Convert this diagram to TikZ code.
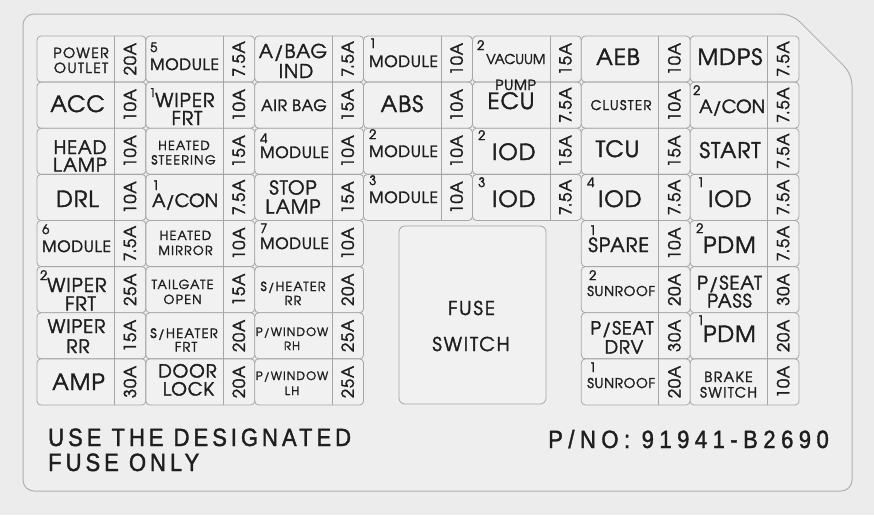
\documentclass[tikz,border=0pt]{standalone}
\usepackage{fontspec}
\setmainfont{texgyreadventor-regular.otf}[FakeBold=2]
\newfontfamily\trk[LetterSpace=5,FakeBold=2]{texgyreadventor-regular.otf}
\newfontfamily\trkw[LetterSpace=10,FakeBold=2]{texgyreadventor-regular.otf}
\newfontfamily\condf[FakeStretch=0.88,LetterSpace=16,FakeBold=1.5]{Liberation Sans}
\newfontfamily\condg[FakeStretch=0.88,LetterSpace=22,FakeBold=1.5]{Liberation Sans}
\definecolor{bgc}{HTML}{ECECEC}
\definecolor{panelfill}{HTML}{EEEEEE}
\definecolor{panelline}{HTML}{B0B0B0}
\definecolor{cellfill}{HTML}{F1F1F1}
\definecolor{cellline}{HTML}{A6A6A6}
\definecolor{ink}{HTML}{1E1E1E}
\newcommand\fs[1]{\fontsize{#1}{#1}\selectfont}
\newcount\nodecnt
\newcommand\tc[4]{\global\advance\nodecnt by 1\relax
  \node[txt,anchor=base,font=\fs{#3}] (t\the\nodecnt) at (#1,#2) {#4};}
\newcommand\tw[4]{\global\advance\nodecnt by 1\relax
  \node[txt,anchor=base west,font=\fs{#3}] (t\the\nodecnt) at (#1,#2) {#4};}
% #1 col, #2 row, #3 amp text
\newcommand\fusecell[3]{%
  \node[cellbox] (cell-#2-#1) at ({37+108.86*#1+54.43},{36+46.125*#2+23.06}) {};
  \draw[divider] ({37+108.86*#1+77.5},{36+46.125*#2}) -- ++(0,46.125);
  \node[amp] (amp-#2-#1) at ({37+108.86*#1+93},{36+46.125*#2+23.06}) {\trk #3};}
\tikzset{
  txt/.style={inner sep=0pt,text=ink},
  cellbox/.style={draw=cellline,fill=cellfill,line width=0.8pt,rounded corners=4pt,
    minimum width=108.86pt,minimum height=46.125pt,inner sep=0pt},
  divider/.style={draw=cellline,line width=0.8pt},
  amp/.style={txt,rotate=90,font=\fs{16.5}},
  panel/.style={draw=panelline,fill=panelfill,line width=1pt,rounded corners=11pt},
}
\begin{document}
\begin{tikzpicture}[x={(1pt,0pt)},y={(0pt,-1pt)}]
\fill[bgc] (0,0) rectangle (874,515);
\useasboundingbox (0,0) rectangle (874,515);
\draw[panel] (23,491) -- (23,14) -- (792,14) -- (852,74) -- (852,491) -- cycle;
% row 0
\fusecell{0}{0}{20A}\fusecell{1}{0}{7.5A}\fusecell{2}{0}{7.5A}\fusecell{3}{0}{10A}
\fusecell{4}{0}{15A}\fusecell{5}{0}{10A}\fusecell{6}{0}{7.5A}
% row 1
\fusecell{0}{1}{10A}\fusecell{1}{1}{10A}\fusecell{2}{1}{15A}\fusecell{3}{1}{10A}
\fusecell{4}{1}{7.5A}\fusecell{5}{1}{10A}\fusecell{6}{1}{7.5A}
% row 2
\fusecell{0}{2}{10A}\fusecell{1}{2}{15A}\fusecell{2}{2}{10A}\fusecell{3}{2}{10A}
\fusecell{4}{2}{15A}\fusecell{5}{2}{15A}\fusecell{6}{2}{7.5A}
% row 3
\fusecell{0}{3}{10A}\fusecell{1}{3}{7.5A}\fusecell{2}{3}{15A}\fusecell{3}{3}{10A}
\fusecell{4}{3}{7.5A}\fusecell{5}{3}{7.5A}\fusecell{6}{3}{7.5A}
% rows 4-7
\fusecell{0}{4}{7.5A}\fusecell{1}{4}{10A}\fusecell{2}{4}{10A}\fusecell{5}{4}{10A}\fusecell{6}{4}{7.5A}
\fusecell{0}{5}{25A}\fusecell{1}{5}{15A}\fusecell{2}{5}{20A}\fusecell{5}{5}{20A}\fusecell{6}{5}{30A}
\fusecell{0}{6}{15A}\fusecell{1}{6}{20A}\fusecell{2}{6}{25A}\fusecell{5}{6}{30A}\fusecell{6}{6}{20A}
\fusecell{0}{7}{30A}\fusecell{1}{7}{20A}\fusecell{2}{7}{25A}\fusecell{5}{7}{20A}\fusecell{6}{7}{10A}
% fuse switch
\node[draw=cellline,fill=cellfill,line width=0.8pt,rounded corners=6pt,
  minimum width=147pt,minimum height=178pt,inner sep=0pt] (fswitch) at (472.5,315) {};
\tc{471.5}{315}{19}{\trkw FUSE}
\tc{471}{351}{19}{\trkw SWITCH}
% row 0 labels
\tc{81}{58}{14}{\trkw POWER}
\tc{81}{73}{14}{\trkw OUTLET}
\tw{150}{52}{13}{5}
\tw{150}{70}{15.5}{\trk MODULE}
\tc{293}{58}{19}{\trk A/BAG}
\tc{296}{78}{19}{\trk IND}
\tw{369}{48}{13}{1}
\tw{369}{67}{15.5}{\trk MODULE}
\tw{477}{50}{13}{2}
\tw{486}{64}{13.5}{VACUUM}
\tw{495}{90}{14}{\trk PUMP}
\tc{618}{65}{22.3}{\trk AEB}
\tc{730}{65}{22.3}{\trk MDPS}
% row 1
\tc{77.5}{112}{22.3}{\trk ACC}
\tw{149}{97}{12}{1}
\tw{155}{107}{19}{\trk WIPER}
\tc{187}{125}{19}{\trk FRT}
\tc{294}{111}{15.5}{\trk AIR BAG}
\tc{402}{112}{22.3}{\trk ABS}
\tc{511}{109}{22.3}{\trk ECU}
\tc{621}{110}{13.3}{\trkw CLUSTER}
\tw{693}{95}{13}{2}
\tw{699}{113}{18}{A/CON}
% row 2
\tc{80}{154}{18.5}{\trk HEAD}
\tc{80}{171.5}{18.5}{\trk LAMP}
\tc{184}{150}{12.5}{\trkw HEATED}
\tc{183.5}{164.5}{12.5}{\trkw STEERING}
\tw{260}{143}{13}{4}
\tw{260}{158}{15.5}{\trk MODULE}
\tw{369}{139}{13}{2}
\tw{369}{157}{15.5}{\trk MODULE}
\tw{478}{140}{13}{2}
\tw{492}{160}{22.3}{\trk IOD}
\tc{617.5}{157}{22.3}{\trk TCU}
\tc{730}{158}{21.5}{\trk START}
% row 3
\tc{77.5}{207}{22.3}{\trk DRL}
\tw{152}{190}{13}{1}
\tw{152}{207}{18}{A/CON}
\tc{293}{194.5}{19}{\trk STOP}
\tc{293}{213.5}{19}{\trk LAMP}
\tw{369}{185}{13}{3}
\tw{369}{203}{15.5}{\trk MODULE}
\tw{478}{187}{13}{3}
\tw{492}{207}{22.3}{\trk IOD}
\tw{587}{187}{13}{4}
\tw{598}{207}{22.3}{\trk IOD}
\tw{697}{187}{13}{1}
\tw{708}{207}{22.3}{\trk IOD}
% row 4
\tw{42}{234}{13}{6}
\tw{42}{252}{15.5}{\trk MODULE}
\tc{185.5}{240}{12.5}{\trkw HEATED}
\tc{185.5}{255}{12.5}{\trkw MIRROR}
\tw{260}{233}{13}{7}
\tw{260}{249}{15.5}{\trk MODULE}
\tw{589}{235}{13}{1}
\tw{588}{252}{19.5}{\trk SPARE}
\tw{696}{233}{13}{2}
\tw{703}{253}{22.3}{\trk PDM}
% row 5
\tw{40}{280}{13}{2}
\tw{47}{292}{19}{\trk WIPER}
\tc{80.5}{310.5}{19}{\trk FRT}
\tc{182.5}{289}{12.5}{\trkw TAILGATE}
\tc{182.5}{304}{12.5}{\trkw OPEN}
\tc{293}{291}{12.5}{\trkw S/HEATER}
\tc{293}{305}{12.5}{\trkw RR}
\tw{589}{280}{13}{2}
\tw{587}{296}{13.5}{\trk SUNROOF}
\tc{729.5}{289.5}{18.5}{\trk P/SEAT}
\tc{729.5}{307.5}{18.5}{\trk PASS}
% row 6
\tc{76.5}{333}{18.5}{\trk WIPER}
\tc{78}{353}{18.5}{\trk RR}
\tc{184}{338}{13}{\trkw S/HEATER}
\tc{186}{351.5}{13}{\trkw FRT}
\tc{292}{336}{11.5}{\trkw P/WINDOW}
\tc{292}{350}{11.5}{\trkw RH}
\tc{622}{334.5}{18}{\trk P/SEAT}
\tc{624}{353.5}{18}{\trk DRV}
\tw{697}{325}{13}{1}
\tw{703}{342}{22.3}{\trk PDM}
% row 7
\tc{78.5}{390}{22.3}{\trk AMP}
\tc{187.5}{377.5}{18}{\trk DOOR}
\tc{188.5}{395.5}{18}{\trk LOCK}
\tc{292}{380}{11.5}{\trkw P/WINDOW}
\tc{292}{395}{11.5}{\trkw LH}
\tw{589}{372}{13}{1}
\tw{587}{388}{13.5}{\trk SUNROOF}
\tc{728.5}{382}{14}{\trkw BRAKE}
\tc{728.5}{397.5}{14}{\trkw SWITCH}
% bottom notes
\node[txt,anchor=base west,font=\condf\fs{25}] (note1) at (48,446) {USE THE DESIGNATED};
\node[txt,anchor=base west,font=\condf\fs{25}] (note2) at (48,471) {FUSE ONLY};
\node[txt,anchor=base west,font=\condg\fs{25}] (pno) at (548,448) {P/NO: 91941-B2690};
\end{tikzpicture}
\end{document}
